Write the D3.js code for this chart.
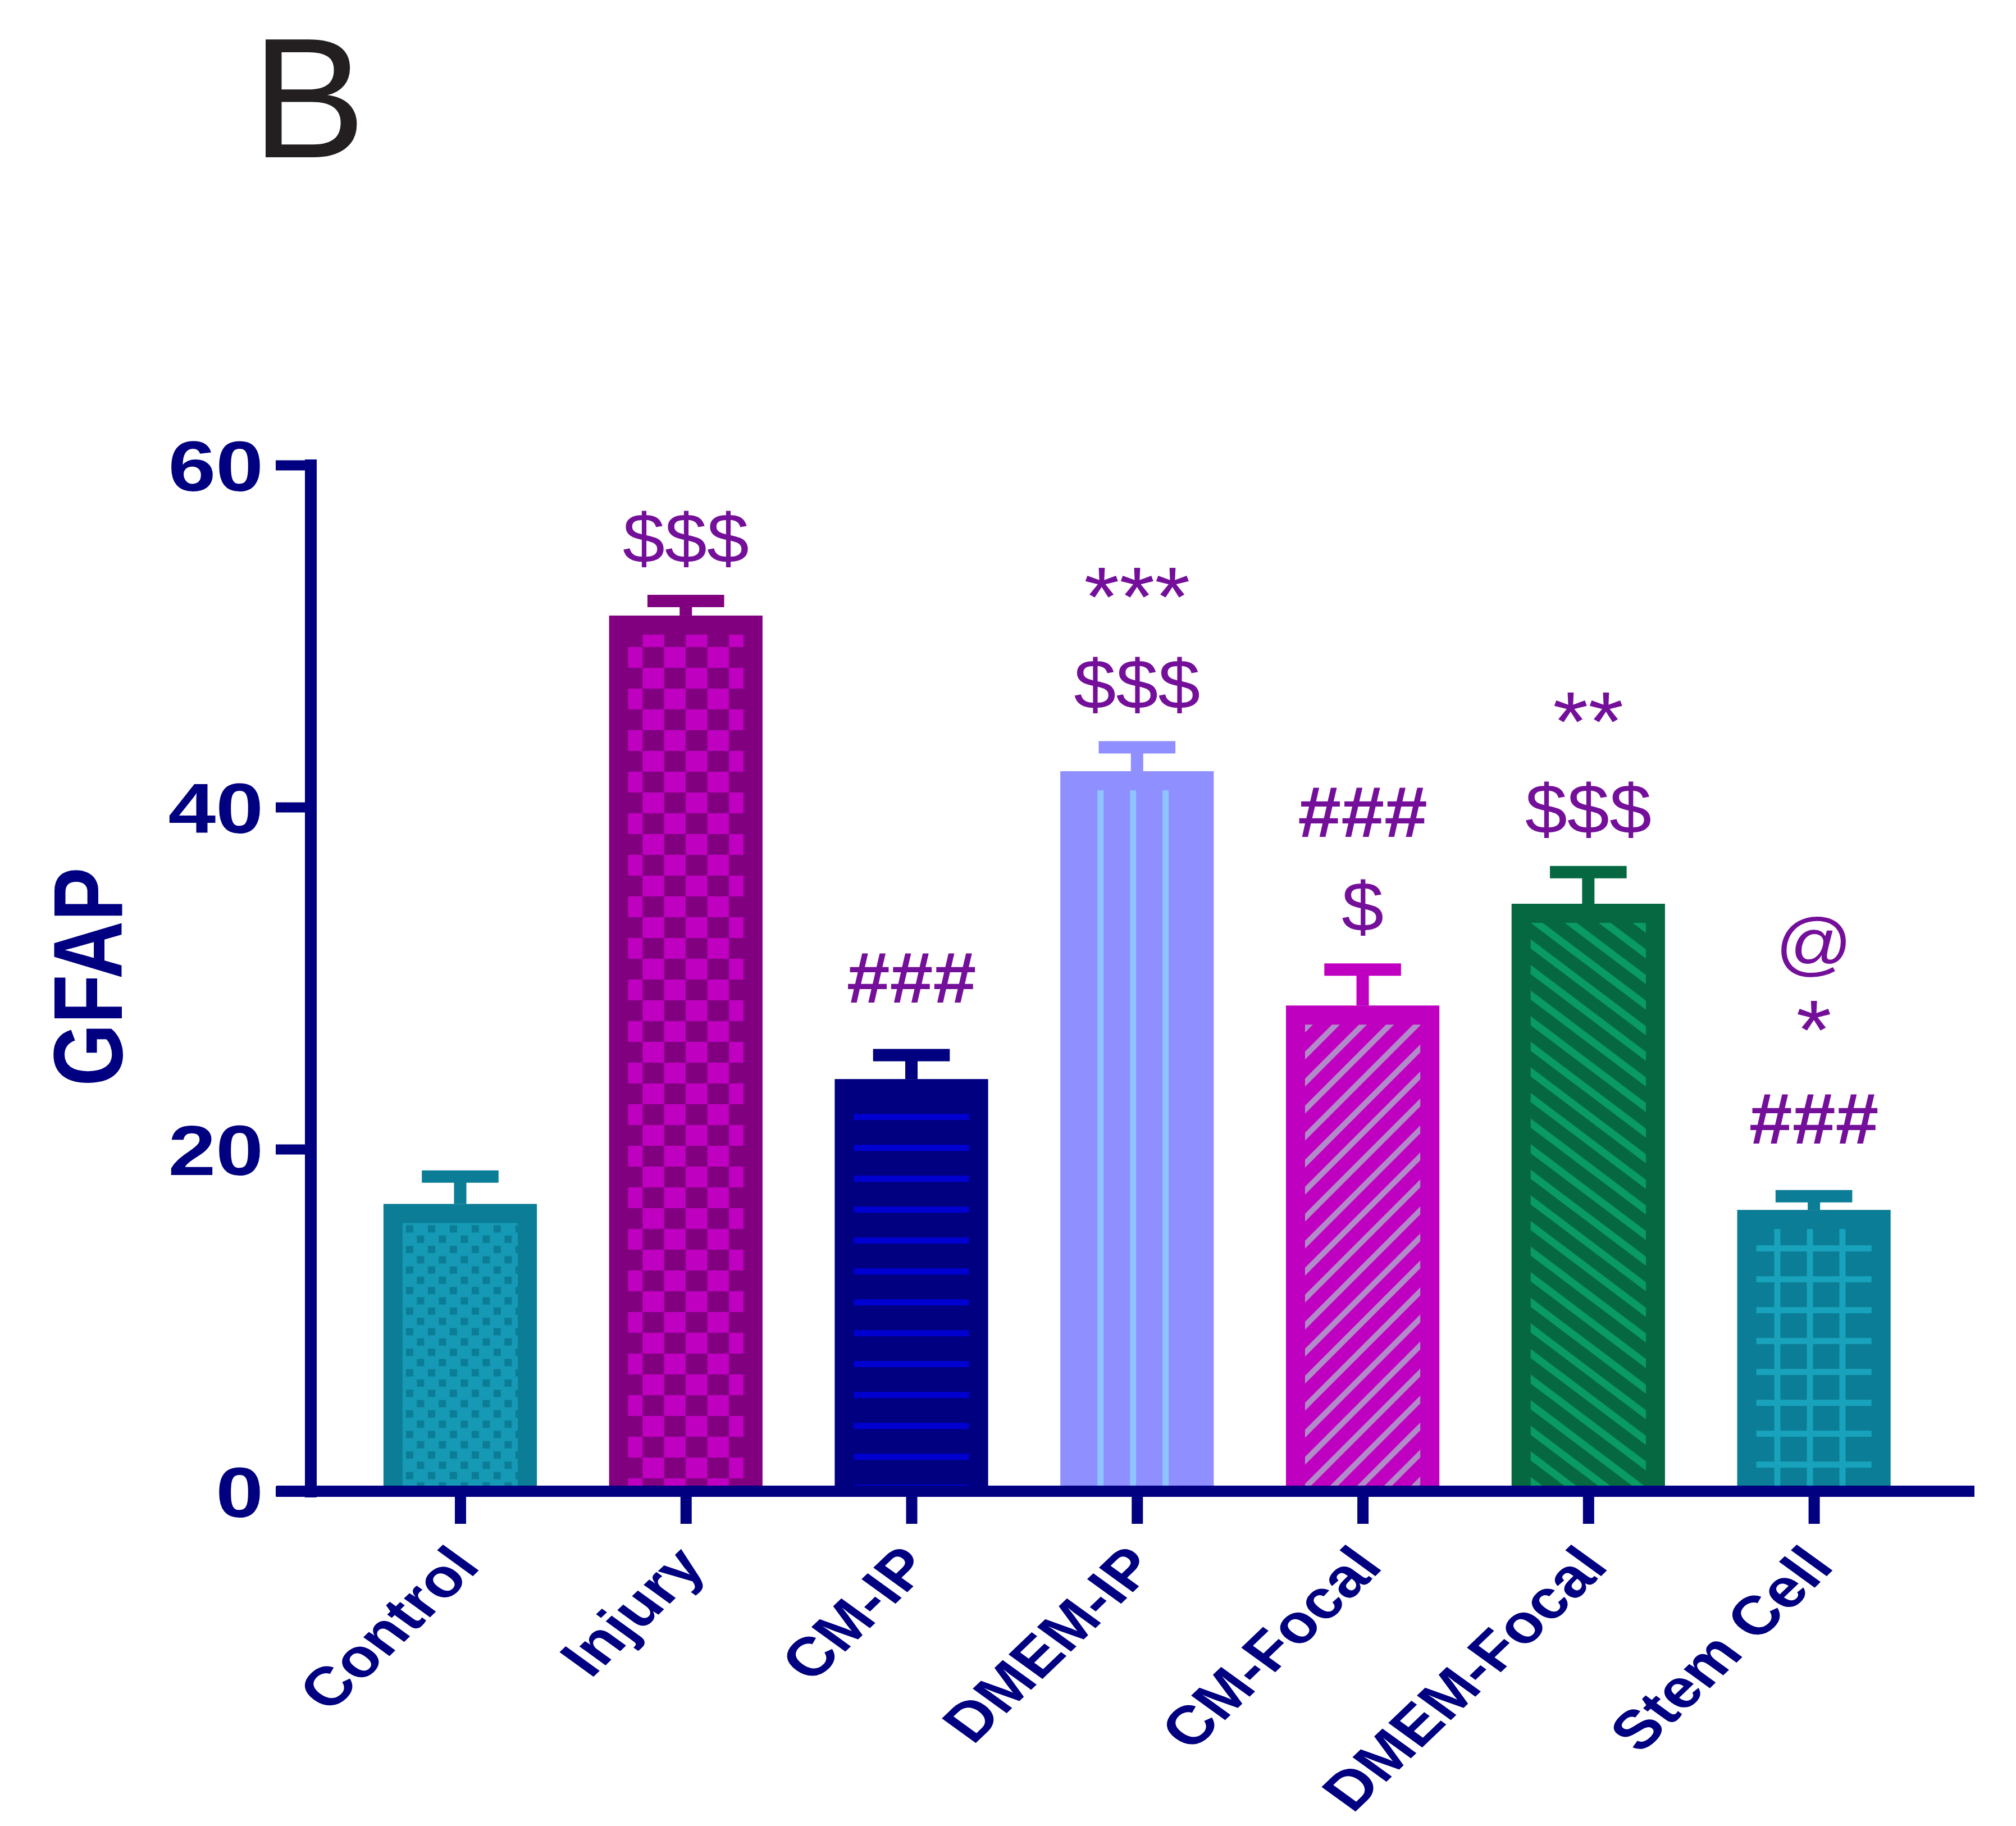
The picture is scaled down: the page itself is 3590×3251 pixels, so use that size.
<!DOCTYPE html>
<html>
<head>
<meta charset="utf-8">
<script src="https://cdn.jsdelivr.net/npm/d3@7"></script>
<style>
  body { margin: 0; background: #fff; }
  svg { display: block; }
</style>
</head>
<body>
<svg id="chart"></svg>
<script>
// data
var groups = ["Control", "Injury", "CM-IP", "DMEM-IP", "CM-Focal", "DMEM-Focal", "Stem Cell"];
var means = [16.8, 51.2, 24.1, 42.1, 28.4, 34.35, 16.45];
var sems = [1.6, 0.85, 1.4, 1.4, 2.1, 1.85, 0.8];
var yTicks = [0, 20, 40, 60];
// significance marks, listed from the bar upwards
var marks = [[], ["$$$"], ["###"], ["$$$", "***"], ["$", "###"], ["$$$", "**"], ["###", "*", "@"]];
var panelLabel = "B";
var yTitle = "GFAP";

// look of each bar (border colour, fill, pattern colour, pattern kind)
var looks = [
  { edge: "#0b7d96", bg: "#1599b5", ink: "#0b7d96", kind: "dots" },
  { edge: "#800080", bg: "#c000c0", ink: "#800080", kind: "checker" },
  { edge: "#000080", bg: "#000080", ink: "#0000d0", kind: "hlines" },
  { edge: "#8f8fff", bg: "#8f8fff", ink: "#8ec4ff", kind: "vlines" },
  { edge: "#c000c0", bg: "#c000c0", ink: "#b08cc8", kind: "fwd" },
  { edge: "#056840", bg: "#056840", ink: "#0a9a64", kind: "back" },
  { edge: "#0b7d96", bg: "#0b7d96", ink: "#18a2bc", kind: "grid" }
];

var W = 3590, H = 3251;
var navy = "#000080", purple = "#740f9a";
var font = "'Liberation Sans', Arial, sans-serif";
var stretch = 1.2;   // the figure is squeezed wider than it was drawn

var svg = d3.select("#chart").attr("width", W).attr("height", H);
svg.append("rect").attr("width", W).attr("height", H).attr("fill", "#fff");
var defs = svg.append("defs");

var x = d3.scalePoint().domain(groups).range([618.6, 3431]).padding(0.5);
var y = d3.scaleLinear().domain([0, 60]).range([2655, 828]);
var barW = x.step() * 0.68;
var inset = 34;

// patterns, one per bar so they start at the bar's inner corner
function makePattern(i, px, py) {
  var lk = looks[i], id = "pat" + i, p;
  if (lk.kind === "dots") {
    p = defs.append("pattern").attr("id", id).attr("patternUnits", "userSpaceOnUse")
      .attr("x", px).attr("y", py).attr("width", 39).attr("height", 36.6);
    p.append("rect").attr("width", 39).attr("height", 36.6).attr("fill", lk.bg);
    p.append("rect").attr("x", 6).attr("y", 4).attr("width", 13).attr("height", 13).attr("fill", lk.ink);
    p.append("rect").attr("x", 25.5).attr("y", 22.3).attr("width", 13).attr("height", 13).attr("fill", lk.ink);
  } else if (lk.kind === "checker") {
    p = defs.append("pattern").attr("id", id).attr("patternUnits", "userSpaceOnUse")
      .attr("x", px - 13).attr("y", py - 15).attr("width", 77).attr("height", 74);
    p.append("rect").attr("width", 77).attr("height", 74).attr("fill", lk.bg);
    p.append("rect").attr("x", 0).attr("y", 0).attr("width", 38.5).attr("height", 37).attr("fill", lk.ink);
    p.append("rect").attr("x", 38.5).attr("y", 37).attr("width", 38.5).attr("height", 37).attr("fill", lk.ink);
  } else if (lk.kind === "hlines") {
    p = defs.append("pattern").attr("id", id).attr("patternUnits", "userSpaceOnUse")
      .attr("x", px).attr("y", py).attr("width", 100).attr("height", 55);
    p.append("rect").attr("width", 100).attr("height", 55).attr("fill", lk.bg);
    p.append("rect").attr("y", 28).attr("width", 100).attr("height", 11).attr("fill", lk.ink);
  } else if (lk.kind === "vlines") {
    p = defs.append("pattern").attr("id", id).attr("patternUnits", "userSpaceOnUse")
      .attr("x", px).attr("y", py).attr("width", 58).attr("height", 100);
    p.append("rect").attr("width", 58).attr("height", 100).attr("fill", lk.bg);
    p.append("rect").attr("x", 32).attr("width", 11).attr("height", 100).attr("fill", lk.ink);
  } else if (lk.kind === "fwd" || lk.kind === "back") {
    var per = lk.kind === "fwd" ? 34 : 36.4, th = lk.kind === "fwd" ? 10 : 13;
    var ang = lk.kind === "fwd" ? 45 : -53;
    p = defs.append("pattern").attr("id", id).attr("patternUnits", "userSpaceOnUse")
      .attr("x", px).attr("y", py).attr("width", per).attr("height", per)
      .attr("patternTransform", "rotate(" + ang + " " + px + " " + py + ")");
    p.append("rect").attr("width", per).attr("height", per).attr("fill", lk.bg);
    p.append("rect").attr("x", 0).attr("width", th).attr("height", per).attr("fill", lk.ink);
  } else if (lk.kind === "grid") {
    p = defs.append("pattern").attr("id", id).attr("patternUnits", "userSpaceOnUse")
      .attr("x", px).attr("y", py).attr("width", 58).attr("height", 55);
    p.append("rect").attr("width", 58).attr("height", 55).attr("fill", lk.bg);
    p.append("rect").attr("y", 29).attr("width", 58).attr("height", 11).attr("fill", lk.ink);
    p.append("rect").attr("x", 32).attr("width", 11).attr("height", 55).attr("fill", lk.ink);
  }
  return "url(#" + id + ")";
}

// bars
var bars = svg.append("g");
groups.forEach(function(g, i) {
  var x0 = x(g) - barW / 2, top = y(means[i]), bottom = y(0);
  bars.append("rect")
    .attr("x", x0).attr("y", top).attr("width", barW).attr("height", bottom - top)
    .attr("fill", looks[i].edge);
  bars.append("rect")
    .attr("x", x0 + inset).attr("y", top + inset)
    .attr("width", barW - 2 * inset).attr("height", bottom - top - inset)
    .attr("fill", makePattern(i, x0 + inset, top + inset));
});

// error bars (upper half only)
var errs = svg.append("g");
groups.forEach(function(g, i) {
  var cx = x(g), yt = y(means[i] + sems[i]);
  errs.append("line").attr("x1", cx).attr("x2", cx)
    .attr("y1", y(means[i])).attr("y2", yt)
    .attr("stroke", looks[i].edge).attr("stroke-width", 22);
  errs.append("line").attr("x1", cx - barW / 4).attr("x2", cx + barW / 4)
    .attr("y1", yt).attr("y2", yt)
    .attr("stroke", looks[i].edge).attr("stroke-width", 22);
});

// significance marks, stacked by the ink extents of the glyphs,
// but never letting one line's font box run into the one below
var inkBox = { "$": [-0.1, 0.78], "#": [0, 0.71], "@": [-0.21, 0.74], "*": [0.43, 0.73] };
var annSize = { "$": 125, "#": 128, "@": 125, "*": 150 };
var annWeight = { "$": "normal", "#": "bold", "@": "normal", "*": "normal" };
var ascent = 0.905, descent = 0.212;
var ann = svg.append("g").attr("fill", purple).attr("font-family", font).attr("text-anchor", "middle");
groups.forEach(function(g, i) {
  var edge = y(means[i] + sems[i]) - 11;
  var boxTop = Infinity;
  marks[i].forEach(function(m, j) {
    var c = m[0], fs = annSize[c];
    var gap = j === 0 ? (c === "#" ? 83 : 45) : 70;
    var inkBase = edge - gap + inkBox[c][0] * fs;
    var base = Math.min(inkBase, boxTop - descent * fs - 2);
    ann.append("text")
      .attr("transform", "translate(" + x(g) + "," + base + ") scale(1.08,1)")
      .attr("font-size", fs).attr("font-weight", annWeight[c])
      .text(m);
    edge = inkBase - inkBox[c][1] * fs;
    boxTop = base - ascent * fs;
  });
});

// y axis
var yAxis = svg.append("g").attr("transform", "translate(553,0)")
  .call(d3.axisLeft(y).tickValues(yTicks).tickSize(62).tickSizeOuter(0));
yAxis.select(".domain").attr("stroke", navy).attr("stroke-width", 21).attr("stroke-linecap", "square");
yAxis.selectAll(".tick line").attr("stroke", navy).attr("stroke-width", 18);
yAxis.selectAll(".tick text")
  .attr("x", null).attr("dy", null).attr("y", 0.355 * 127)
  .attr("transform", "translate(-84,0) scale(" + stretch + ",1)")
  .attr("fill", navy).attr("font-size", 127).attr("font-weight", "bold").attr("font-family", font);

// x axis
var xAxis = svg.append("g").attr("transform", "translate(0," + y(0) + ")")
  .call(d3.axisBottom(x).tickSize(58).tickSizeOuter(0));
xAxis.select(".domain").remove();
xAxis.append("line").attr("x1", 492).attr("x2", 3516).attr("y1", 0).attr("y2", 0)
  .attr("stroke", navy).attr("stroke-width", 20);
xAxis.selectAll(".tick line").attr("stroke", navy).attr("stroke-width", 20);
xAxis.selectAll(".tick text")
  .attr("y", 0).attr("dy", null).attr("text-anchor", "end")
  .attr("transform", "translate(38,136) scale(" + stretch + ",1) rotate(-49)")
  .attr("fill", navy).attr("font-size", 97).attr("font-weight", "bold").attr("font-family", font);

// axis title
svg.append("text")
  .attr("transform", "translate(155,1739) scale(1.22,1) rotate(-90)")
  .attr("y", 0.358 * 143).attr("text-anchor", "middle")
  .attr("fill", navy).attr("font-size", 143).attr("font-weight", "bold").attr("font-family", font)
  .text(yTitle);

// panel letter
svg.append("text").attr("x", 448).attr("y", 280)
  .attr("fill", "#231f20").attr("font-size", 305).attr("font-family", font)
  .text(panelLabel);
</script>
</body>
</html>
